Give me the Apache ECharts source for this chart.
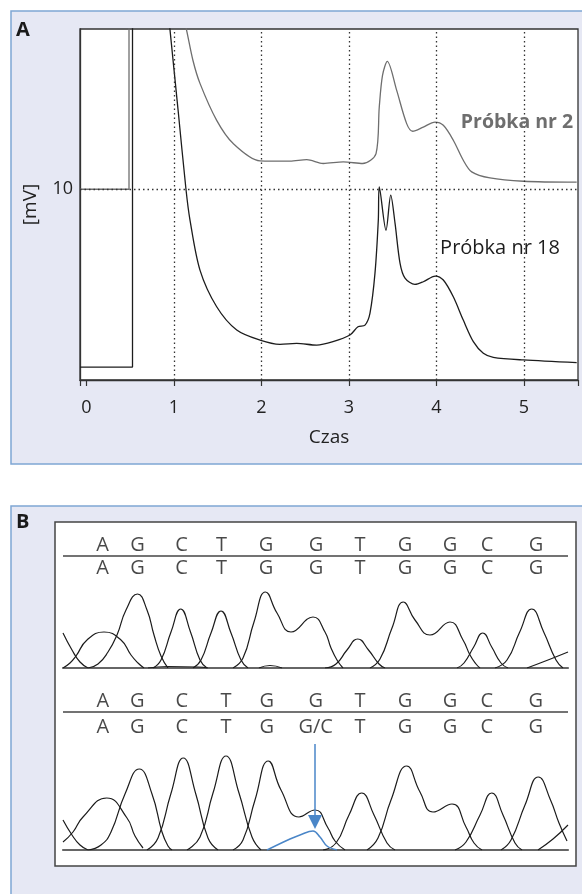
<!DOCTYPE html>
<html>
<head>
<meta charset="utf-8">
<script src="https://cdn.jsdelivr.net/npm/echarts@6/dist/echarts.min.js"></script>
<style>
  html, body { margin: 0; padding: 0; background: #fff; }
  #chart { width: 582px; height: 894px; }
</style>
</head>
<body>
<div id="chart"></div>
<script>
// --- panel A: chromatograms (time, mV) ---
const sample18Step = [[-0.074, 0.68], [0.526, 0.68], [0.526, 20]];
const sample18Trace = [
  [0.937, 19.2], [0.954, 18.38], [1.046, 14.19], [1.137, 10.0], [1.183, 8.38], [1.297, 5.76],
  [1.488, 3.84], [1.717, 2.62], [1.983, 2.09], [2.211, 1.87], [2.402, 1.92], [2.631, 1.83],
  [2.817, 2.01], [3.011, 2.36], [3.103, 2.79], [3.183, 2.88], [3.240, 3.51], [3.297, 5.60],
  [3.335, 8.38], [3.346, 10.12], [3.423, 7.85], [3.477, 9.69], [3.526, 8.22], [3.583, 6.13],
  [3.640, 5.34], [3.754, 5.01], [3.849, 5.15], [3.986, 5.45], [4.078, 5.24], [4.192, 4.36],
  [4.306, 3.14], [4.421, 2.01], [4.535, 1.40], [4.649, 1.19], [4.992, 1.05], [5.602, 0.91]
];
const sample2Step = [[-0.074, 10], [0.486, 10], [0.486, 20]];
const sample2Trace = [
  [1.109, 19.0], [1.145, 18.32], [1.217, 16.75], [1.297, 15.55], [1.488, 13.61], [1.674, 12.41],
  [1.983, 11.49], [2.326, 11.47], [2.517, 11.55], [2.706, 11.35], [2.935, 11.43], [3.157, 11.35],
  [3.309, 11.87], [3.346, 14.31], [3.383, 15.97], [3.438, 16.70], [3.545, 15.18], [3.659, 13.44],
  [3.728, 13.04], [3.849, 13.26], [3.983, 13.52], [4.078, 13.35], [4.192, 12.57], [4.306, 11.52],
  [4.402, 10.91], [4.611, 10.59], [4.992, 10.42], [5.602, 10.37]
];
const timeGrid = [1, 2, 3, 4, 5];
const signalGrid = [10];

// --- panel B: sequencing traces ---
const topRow1 = ['A', 'G', 'C', 'T', 'G', 'G', 'T', 'G', 'G', 'C', 'G'];
const topRow2 = ['A', 'G', 'C', 'T', 'G', 'G', 'T', 'G', 'G', 'C', 'G'];
const topLetterX = [39.5, 74.5, 118.5, 158.5, 203, 253, 297, 342, 387, 424, 473];
const botRow1 = ['A', 'G', 'C', 'T', 'G', 'G', 'T', 'G', 'G', 'C', 'G'];
const botRow2 = ['A', 'G', 'C', 'T', 'G', 'G/C', 'T', 'G', 'G', 'C', 'G'];
const botLetterX = [39.7, 74.3, 118.7, 163, 203.7, 252.7, 297, 342, 387, 423.7, 472.7];

const topPeaks = [
  [[0, 35], [9, 18], [17, 6], [25, 0]],
  [[0, 0], [7, 5], [13, 12], [24, 28], [41, 36], [58, 28], [68, 13], [75, 5], [81, 0]],
  [[25, 0], [35, 4], [45, 16], [54, 33], [63, 58], [74.5, 74], [84, 58], [91, 33], [98, 12], [105, 0]],
  [[85, 0], [105, 1.5], [135, 1], [145, 0]],
  [[90, 0], [98, 8], [108, 36], [117.7, 59], [127.5, 36], [137, 8], [144, 0]],
  [[130, 0], [138, 8], [148, 35], [158, 57], [168, 35], [178, 8], [185, 0]],
  [[170, 0], [180, 10], [191, 46], [202.5, 76], [214, 55], [228, 36],
   [250, 51], [262, 36], [268, 20], [274, 8], [280, 0]],
  [[196, 0], [207, 2.5], [219, 0]],
  [[262, 0], [273, 4], [284, 18], [294.7, 29], [305.5, 18], [316, 4], [322, 0]],
  [[307, 0], [317, 9], [329, 40], [340.3, 66], [352, 48], [367, 33],
   [387, 46], [400, 28], [407, 13], [413, 4], [417, 0]],
  [[394, 0], [401, 5], [410.7, 21], [419.7, 35], [428.7, 21], [438, 5], [445, 0]],
  [[432, 0], [444, 8], [456.7, 36], [468.7, 59], [480.7, 36], [493, 8], [500, 0]],
  [[464, 0], [485, 8], [505, 16]]
];
const botPeaks = [
  [[0, 30], [9, 15], [17, 5], [25, 0]],
  [[0, 8], [10, 18], [20, 33], [43.7, 52], [64, 32], [72, 14], [80, 2]],
  [[25, 0], [38, 5], [48, 18], [62, 56], [76.3, 81], [89, 56], [99, 18], [105, 4], [109, 0]],
  [[84, 0], [95, 12], [107.8, 56], [120.3, 92], [132.8, 56], [145, 12], [155, 0]],
  [[124, 0], [137, 13], [150, 57], [163, 94], [176, 57], [189, 13], [198, 0]],
  [[170, 0], [180, 10], [192, 50], [205.3, 89], [218, 60], [236, 33],
   [252, 40], [265, 22], [272, 9], [282, 0]],
  [[260, 0], [273, 7], [286, 35], [298.7, 57], [311, 35], [324, 7], [332, 0]],
  [[304, 0], [315, 12], [328, 50], [343.7, 84], [357, 58], [370, 38],
   [389, 46], [403, 23], [411, 7], [419, 0]],
  [[392, 0], [403, 8], [417, 35], [428.7, 57], [440, 35], [452, 7], [459, 0]],
  [[438, 0], [448, 10], [462, 45], [475.3, 73], [487.5, 50], [496, 27], [504, 9]],
  [[475, 0], [490, 11], [505, 25]]
];
const botVariant = [[204, 0], [227, 11], [237, 15], [250, 19], [257, 13], [264, 4], [274, 0]];
const variantArrow = [[252, 106], [252, 28]];

const font = '"Open Sans", "Noto Sans", sans-serif';
const ink = '#1c1c1c';
const blue = '#4a86c8';

const chart = echarts.init(document.getElementById('chart'));

function traceSeries(peaks, grid) {
  return peaks.map(p => ({
    type: 'line', xAxisIndex: grid, yAxisIndex: grid, data: p,
    showSymbol: false, smooth: 0.5, silent: true,
    lineStyle: { color: ink, width: 1.2 }
  }));
}

function letterSeries(letters, xs, y, grid, sepY) {
  const s = {
    type: 'scatter', xAxisIndex: grid, yAxisIndex: grid, silent: true,
    symbolSize: 1, itemStyle: { color: 'rgba(0,0,0,0)' },
    data: xs.map(x => [x, y]),
    label: {
      show: true, position: 'inside', color: '#1a1a1a', fontSize: 20, fontFamily: font,
      formatter: p => letters[p.dataIndex]
    }
  };
  if (sepY != null) {
    s.markLine = {
      silent: true, symbol: 'none', label: { show: false },
      lineStyle: { color: '#444', width: 1.5, type: 'solid' },
      data: [{ yAxis: sepY }]
    };
  }
  return s;
}

const hiddenX = (grid) => ({
  gridIndex: grid, type: 'value', min: 0, max: 505,
  axisLine: { show: true, onZero: true, lineStyle: { color: '#666', width: 2.2 } },
  axisTick: { show: false }, axisLabel: { show: false }, splitLine: { show: false }
});

chart.setOption({
  animation: false,
  textStyle: { fontFamily: font },
  graphic: [
    { type: 'rect', z: -10, shape: { x: 11, y: 11, width: 600, height: 453 },
      style: { fill: '#e6e8f4', stroke: '#7fa6d4', lineWidth: 1.5 } },
    { type: 'rect', z: -9, shape: { x: 80, y: 29, width: 498, height: 351 },
      style: { fill: '#fff', stroke: '#333', lineWidth: 1.3 } },
    { type: 'rect', z: -10, shape: { x: 11, y: 506, width: 600, height: 420 },
      style: { fill: '#e6e8f4', stroke: '#7fa6d4', lineWidth: 1.5 } },
    { type: 'rect', z: -9, shape: { x: 55, y: 522, width: 521, height: 344 },
      style: { fill: '#fff', stroke: '#444', lineWidth: 1.5 } },
    { type: 'text', z: 100, x: 16, y: 20,
      style: { text: 'A', fontSize: 20, fontWeight: 'bold', fontFamily: font, fill: '#1a1a1a' } },
    { type: 'text', z: 100, x: 16, y: 512,
      style: { text: 'B', fontSize: 20, fontWeight: 'bold', fontFamily: font, fill: '#1a1a1a' } },
    { type: 'text', z: 100, x: 517, y: 122,
      style: { text: 'Próbka nr 2', fontSize: 19.5, fontWeight: 'bold', fontFamily: font, fill: '#6e6e6e',
               textAlign: 'center', textVerticalAlign: 'middle' } },
    { type: 'text', z: 100, x: 500, y: 248,
      style: { text: 'Próbka nr 18', fontSize: 20, fontFamily: font, fill: ink,
               textAlign: 'center', textVerticalAlign: 'middle' } }
  ],
  grid: [
    { left: 80, top: 29, width: 498, height: 351 },
    { left: 63, top: 535, width: 505, height: 133 },
    { left: 63, top: 690, width: 505, height: 160 }
  ],
  xAxis: [
    {
      gridIndex: 0, type: 'value', min: -0.074, max: 5.617,
      name: 'Czas', nameLocation: 'middle', nameGap: 48,
      nameTextStyle: { fontSize: 19, color: '#222', fontFamily: font },
      axisLine: { onZero: false, lineStyle: { color: '#333', width: 1.3 } },
      axisTick: { length: 6, lineStyle: { color: '#333', width: 1.2 } },
      axisLabel: {
        fontSize: 18, color: '#222', margin: 19, fontFamily: font,
        formatter: v => (Math.abs(v - Math.round(v)) < 1e-6 ? String(Math.round(v)) : '')
      },
      splitLine: { show: false }
    },
    hiddenX(1),
    hiddenX(2)
  ],
  yAxis: [
    {
      gridIndex: 0, type: 'value', min: 0, max: 18.4, interval: 10,
      name: '[mV]', nameLocation: 'middle', nameRotate: 90, nameGap: 40,
      nameTextStyle: { fontSize: 19, color: '#222', fontFamily: font },
      axisLine: { show: true, onZero: false, lineStyle: { color: '#333', width: 1.3 } },
      axisTick: { show: false },
      axisLabel: { fontSize: 18, color: '#222', margin: 7, fontFamily: font,
                   formatter: v => (v === 10 ? '10' : '') },
      splitLine: { show: false }
    },
    { gridIndex: 1, type: 'value', min: 0, max: 133, show: false },
    { gridIndex: 2, type: 'value', min: 0, max: 160, show: false }
  ],
  series: [
    { name: 'Próbka nr 2', type: 'line', data: sample2Step, showSymbol: false, silent: true,
      lineStyle: { color: '#6e6e6e', width: 1.3 },
      markLine: {
        silent: true, symbol: 'none', label: { show: false },
        lineStyle: { color: '#333', width: 1.3, type: [1.5, 3] },
        data: timeGrid.map(t => ({ xAxis: t })).concat(signalGrid.map(v => ({ yAxis: v })))
      } },
    { name: 'Próbka nr 2', type: 'line', data: sample2Trace, showSymbol: false, silent: true,
      smooth: 0.3, lineStyle: { color: '#6e6e6e', width: 1.3 } },
    { name: 'Próbka nr 18', type: 'line', data: sample18Step, showSymbol: false, silent: true,
      lineStyle: { color: ink, width: 1.3 } },
    { name: 'Próbka nr 18', type: 'line', data: sample18Trace, showSymbol: false, silent: true,
      smooth: 0.3, lineStyle: { color: ink, width: 1.3 } },
    ...traceSeries(topPeaks, 1),
    ...traceSeries(botPeaks, 2),
    {
      type: 'line', xAxisIndex: 2, yAxisIndex: 2, data: botVariant, showSymbol: false,
      smooth: 0.4, silent: true,
      lineStyle: { color: blue, width: 1.5 },
      markLine: {
        silent: true, symbol: ['none', 'triangle'], symbolSize: 14, label: { show: false },
        lineStyle: { color: blue, width: 1.5, type: 'solid' },
        data: [[{ coord: variantArrow[0] }, { coord: variantArrow[1] }]]
      }
    },
    letterSeries(topRow1, topLetterX, 123, 1, 112),
    letterSeries(topRow2, topLetterX, 100, 1, null),
    letterSeries(botRow1, botLetterX, 149, 2, 138),
    letterSeries(botRow2, botLetterX, 123, 2, null)
  ]
});
</script>
</body>
</html>
